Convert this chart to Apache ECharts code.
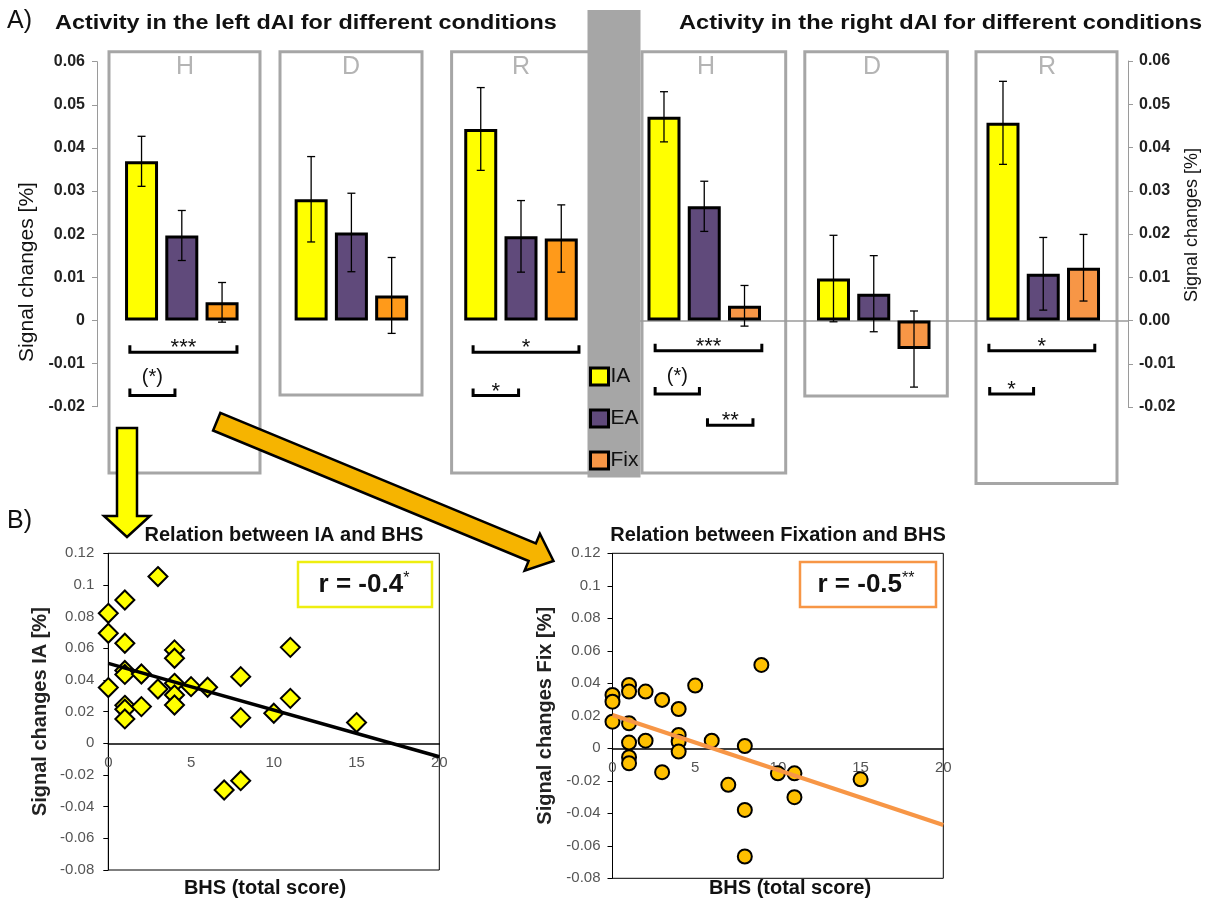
<!DOCTYPE html>
<html><head><meta charset="utf-8">
<script src="https://cdn.jsdelivr.net/npm/echarts@6/dist/echarts.min.js"></script>
<style>html,body{margin:0;padding:0;background:#fff}#c{width:1215px;height:901px}</style>
</head><body><div id="c"></div>
<script>
// ---------------- DATA ----------------
const conditions = ['H', 'D', 'R'];
const groups = ['IA', 'EA', 'Fix'];
// left dAI
const leftIA = [0.0369, 0.0281, 0.0444];
const leftEA = [0.0197, 0.0204, 0.0195];
const leftFix = [0.0042, 0.0058, 0.0190];
const leftIAErr = [0.0058, 0.0099, 0.0096];
const leftEAErr = [0.0058, 0.0091, 0.0083];
const leftFixErr = [0.0046, 0.0088, 0.0078];
// right dAI
const rightIA = [0.0471, 0.0097, 0.0457];
const rightEA = [0.0264, 0.0062, 0.0108];
const rightFix = [0.0034, -0.0066, 0.0122];
const rightIAErr = [0.0058, 0.0100, 0.0096];
const rightEAErr = [0.0058, 0.0088, 0.0084];
const rightFixErr = [0.0047, 0.0088, 0.0077];
// significance brackets: [condition index, from bar pos, to bar pos, y value, label]
const leftBrackets = [[0, -1.29, 1.37, -0.0074, '***'], [0, -1.29, -0.17, -0.0174, '(*)'],
                      [2, -1.19, 1.44, -0.0074, '*'], [2, -1.19, -0.06, -0.0174, '*']];
const rightBrackets = [[0, -1.22, 1.43, -0.0070, '***'], [0, -1.22, -0.12, -0.0170, '(*)'],
                       [0, 0.08, 1.21, -0.0242, '**'], [2, -1.35, 1.28, -0.0070, '*'],
                       [2, -1.33, -0.24, -0.0170, '*']];
// scatter: IA vs BHS
const bhsIA = [0, 0, 0, 1, 1, 1, 1, 1, 1, 1, 2, 2, 3, 3, 4, 4, 4, 4, 4, 5, 6, 7, 8, 8, 8, 10, 11, 11, 15];
const sigIA = [0.0352, 0.0821, 0.0695, 0.0905, 0.0632, 0.0460, 0.0435, 0.0240, 0.0215, 0.0154, 0.0438, 0.0232,
               0.1053, 0.0343, 0.0590, 0.0537, 0.0379, 0.0305, 0.0242, 0.0358, 0.0354, -0.0295, 0.0421,
               0.0162, -0.0236, 0.0190, 0.0606, 0.0284, 0.0131];
const trendIA = [[0, 0.0505], [20, -0.0085]];
// scatter: Fix vs BHS
const bhsFix = [0, 0, 0, 1, 1, 1, 1, 1, 1, 2, 2, 3, 3, 4, 4, 4, 4, 5, 6, 7, 8, 8, 8, 9, 10, 11, 11, 15];
const sigFix = [0.0328, 0.0287, 0.0164, 0.0390, 0.0349, 0.0154, 0.0035, -0.0055, -0.0092, 0.0349, 0.0047,
                0.0298, -0.0147, 0.0242, 0.0082, 0.0041, -0.0020, 0.0386, 0.0047, -0.0225, 0.0014,
                -0.0379, -0.0666, 0.0513, -0.0154, -0.0154, -0.0301, -0.0191];
const trendFix = [[0, 0.0205], [20, -0.0472]];
const corrLabels = ['r = -0.4', 'r = -0.5'];
const corrStars = ['*', '**'];

// ---------------- STYLE ----------------
const FONT = 'Liberation Sans, Arial, sans-serif';
const YEL = '#ffff00', PUR = '#604a7b', ORA_L = '#ff9a1a', ORA_R = '#f79646';
const BAR_W = 33, BAR_GAP = 0.22, STEP = BAR_W * (1 + BAR_GAP);

const chart = echarts.init(document.getElementById('c'), null, {renderer: 'canvas'});

function errRender(params, api) {
  const cat = api.value(0), v = api.value(1), e = api.value(2), k = api.value(3);
  const x = api.coord([cat, v])[0] + (k - 1) * STEP;
  const yt = api.coord([cat, v + e])[1], yb = api.coord([cat, v - e])[1];
  const st = {stroke: '#000', lineWidth: 1.3};
  return {type: 'group', children: [
    {type: 'line', shape: {x1: x, y1: yt, x2: x, y2: yb}, style: st},
    {type: 'line', shape: {x1: x - 4, y1: yt, x2: x + 4, y2: yt}, style: st},
    {type: 'line', shape: {x1: x - 4, y1: yb, x2: x + 4, y2: yb}, style: st}
  ]};
}
function bracketRender(list) {
  return function (params, api) {
    const b = list[params.dataIndex];
    const c = api.coord([b[0], b[3]]);
    const x1 = c[0] + b[1] * STEP, x2 = c[0] + b[2] * STEP, y = c[1];
    const isParen = b[4].charAt(0) === '(';
    return {type: 'group', children: [
      {type: 'polyline', shape: {points: [[x1, y - 7], [x1, y], [x2, y], [x2, y - 7]]},
       style: {stroke: '#000', lineWidth: 3, fill: null}},
      {type: 'text', x: (x1 + x2) / 2, y: isParen ? y - 18 : y - 4,
       style: {text: b[4], font: (isParen ? '20px ' : '22px ') + FONT, fill: '#111',
               textAlign: 'center', textVerticalAlign: 'middle', align: 'center', verticalAlign: 'middle'}}
    ]};
  };
}
function errData(vals, errs, k) { return vals.map((v, i) => [i, v, errs[i], k]); }

function txt(x, y, text, font, opts) {
  opts = opts || {};
  return {type: 'text', x: x, y: y, z: opts.z || 10, rotation: opts.rotation || 0,
    scaleX: opts.scaleX || 1,
    style: {text: text, font: font, fill: opts.fill || '#111',
      textAlign: opts.align || 'left', align: opts.align || 'left',
      textVerticalAlign: 'middle', verticalAlign: 'middle', rich: opts.rich}};
}
function box(x1, y1, x2, y2, color, lw, z) {
  return {type: 'rect', z: z || 0, shape: {x: x1, y: y1, width: x2 - x1, height: y2 - y1},
          style: {fill: null, stroke: color, lineWidth: lw}};
}
function arrowPoly(T, P, hw, headHw, headLen) {
  const dx = P[0] - T[0], dy = P[1] - T[1], L = Math.hypot(dx, dy);
  const u = [dx / L, dy / L], n = [-u[1], u[0]];
  const B = [P[0] - headLen * u[0], P[1] - headLen * u[1]];
  const pt = (o, s) => [o[0] + s * n[0], o[1] + s * n[1]];
  return [pt(T, hw), pt(B, hw), pt(B, headHw), P, pt(B, -headHw), pt(B, -hw), pt(T, -hw)];
}

const GRAY = '#a6a6a6';
const graphics = [
  // condition panels
  box(109, 51.7, 260, 473, GRAY, 3), box(280, 51.7, 422, 395, GRAY, 3), box(451.6, 51.7, 594, 473, GRAY, 3),
  box(642, 51.7, 785.7, 473, GRAY, 3), box(804.8, 51.7, 947.3, 396, GRAY, 3), box(976, 51.7, 1117, 483.5, GRAY, 3),
  // grey divider
  {type: 'rect', z: 1, shape: {x: 587.5, y: 10, width: 53, height: 467.5}, style: {fill: GRAY}},
  // condition letters
  txt(185, 67, 'H', '25px ' + FONT, {fill: '#b4b4b4', align: 'center'}),
  txt(351, 67, 'D', '25px ' + FONT, {fill: '#b4b4b4', align: 'center'}),
  txt(521, 67, 'R', '25px ' + FONT, {fill: '#b4b4b4', align: 'center'}),
  txt(706, 67, 'H', '25px ' + FONT, {fill: '#b4b4b4', align: 'center'}),
  txt(872, 67, 'D', '25px ' + FONT, {fill: '#b4b4b4', align: 'center'}),
  txt(1047, 67, 'R', '25px ' + FONT, {fill: '#b4b4b4', align: 'center'}),
  // titles
  txt(7, 21, 'A)', '25px ' + FONT),
  txt(7, 521, 'B)', '25px ' + FONT),
  txt(55, 23, 'Activity in the left dAI for different conditions', 'bold 20px ' + FONT, {scaleX: 1.17}),
  txt(679, 23, 'Activity in the right dAI for different conditions', 'bold 20px ' + FONT, {scaleX: 1.18}),
  txt(27, 272, 'Signal changes [%]', '21px ' + FONT, {rotation: Math.PI / 2, align: 'center'}),
  txt(1192, 225, 'Signal changes [%]', '18px ' + FONT, {rotation: Math.PI / 2, align: 'center'}),
  // scatter titles & x names
  txt(284, 535, 'Relation between IA and BHS', 'bold 20px ' + FONT, {align: 'center'}),
  txt(778, 535, 'Relation between Fixation and BHS', 'bold 20px ' + FONT, {align: 'center'}),
  txt(265, 888, 'BHS (total score)', 'bold 20px ' + FONT, {align: 'center'}),
  txt(790, 888, 'BHS (total score)', 'bold 20px ' + FONT, {align: 'center'}),
  // correlation boxes
  box(298, 562, 432, 607, '#eeee10', 2.5, 5),
  box(800, 562, 936, 607, ORA_R, 2.5, 5),
  txt(364, 585, '{a|' + corrLabels[0] + '}{b|' + corrStars[0] + '}', 'bold 26px ' + FONT, {align: 'center',
    rich: {a: {font: 'bold 26px ' + FONT, fill: '#111', color: '#111'},
           b: {font: '16px ' + FONT, fill: '#111', color: '#111', verticalAlign: 'top', padding: [0, 0, 12, 0]}}}),
  txt(866, 585, '{a|' + corrLabels[1] + '}{b|' + corrStars[1] + '}', 'bold 26px ' + FONT, {align: 'center',
    rich: {a: {font: 'bold 26px ' + FONT, fill: '#111', color: '#111'},
           b: {font: '16px ' + FONT, fill: '#111', color: '#111', verticalAlign: 'top', padding: [0, 0, 12, 0]}}}),
  // arrows
  {type: 'polygon', z: 20, shape: {points: [[117, 428], [137, 428], [137, 516], [150, 516], [127, 537], [104, 516], [117, 516]]},
   style: {fill: YEL, stroke: '#000', lineWidth: 2.5, lineJoin: 'miter'}},
  {type: 'polygon', z: 20, shape: {points: arrowPoly([216.7, 421.7], [553.5, 561], 9.5, 20, 23)},
   style: {fill: '#f6b400', stroke: '#000', lineWidth: 2.5, lineJoin: 'miter'}}
];

const barStyle = c => ({color: c, borderColor: '#000', borderWidth: 3});
const fmtLeft = v => (Math.abs(v) < 1e-9 ? '0' : v.toFixed(2));
const fmtRight = v => (Math.abs(v) < 1e-9 ? '0.00' : v.toFixed(2));

// scatter grid geometry (pixel layout)
const G2 = {left: 108.3, top: 553.3, width: 331, height: 316.7};
const G3 = {left: 612.5, top: 553.3, width: 330.8, height: 325};
const Y_MIN = -0.08, Y_MAX = 0.12;
const zeroOffset = g => -(g.height * (0 - Y_MIN) / (Y_MAX - Y_MIN));

const option = {
  animation: false,
  backgroundColor: '#fff',
  textStyle: {fontFamily: FONT},
  legend: {
    orient: 'vertical', left: 589, top: 366, itemWidth: 18, itemHeight: 17, itemGap: 21, padding: 0,
    selectedMode: false, icon: 'rect', z: 10,
    itemStyle: {borderColor: '#000', borderWidth: 3},
    textStyle: {fontSize: 21, color: '#111', fontFamily: FONT, padding: [0, 0, 0, -3]},
    data: [{name: 'IA', itemStyle: {color: YEL}}, {name: 'EA', itemStyle: {color: PUR}},
           {name: 'Fix', itemStyle: {color: ORA_R}}]
  },
  grid: [
    {left: 97, top: 61.7, width: 508.8, height: 345},
    {left: 619.5, top: 61, width: 508.5, height: 346},
    Object.assign({show: true, borderColor: '#000', borderWidth: 1, backgroundColor: 'transparent'}, G2),
    Object.assign({show: true, borderColor: '#000', borderWidth: 1, backgroundColor: 'transparent'}, G3)
  ],
  xAxis: [
    {gridIndex: 0, type: 'category', data: conditions, axisLine: {show: false}, axisTick: {show: false}, axisLabel: {show: false}},
    {gridIndex: 1, type: 'category', data: conditions, axisLine: {show: true, onZero: true, lineStyle: {color: '#9a9a9a', width: 1.5}},
     axisTick: {show: false}, axisLabel: {show: false}},
    {gridIndex: 2, type: 'value', min: 0, max: 20, interval: 5, position: 'bottom', offset: zeroOffset(G2),
     axisLine: {onZero: false, lineStyle: {color: '#000', width: 1.5}},
     axisTick: {show: false}, splitLine: {show: false}, axisLabel: {fontSize: 15, color: '#555', margin: 12, fontFamily: FONT}},
    {gridIndex: 3, type: 'value', min: 0, max: 20, interval: 5, position: 'bottom', offset: zeroOffset(G3),
     axisLine: {onZero: false, lineStyle: {color: '#000', width: 1.5}},
     axisTick: {show: false}, splitLine: {show: false}, axisLabel: {fontSize: 15, color: '#555', margin: 12, fontFamily: FONT}}
  ],
  yAxis: [
    {gridIndex: 0, type: 'value', min: -0.02, max: 0.06, interval: 0.01, position: 'left',
     axisLine: {show: true, lineStyle: {color: '#9a9a9a', width: 1}}, axisTick: {show: true, length: 5, lineStyle: {color: '#9a9a9a'}},
     splitLine: {show: false}, axisLabel: {formatter: fmtLeft, fontSize: 16, fontWeight: 'bold', color: '#222', margin: 12, fontFamily: FONT}},
    {gridIndex: 1, type: 'value', min: -0.02, max: 0.06, interval: 0.01, position: 'right',
     axisLine: {show: true, lineStyle: {color: '#9a9a9a', width: 1}}, axisTick: {show: true, length: 5, lineStyle: {color: '#9a9a9a'}},
     splitLine: {show: false}, axisLabel: {formatter: fmtRight, fontSize: 16, fontWeight: 'bold', color: '#222', margin: 11, fontFamily: FONT}},
    {gridIndex: 2, type: 'value', min: Y_MIN, max: Y_MAX, interval: 0.02,
     axisLine: {show: true, onZero: false, lineStyle: {color: '#000'}}, axisTick: {show: true, length: 5, lineStyle: {color: '#000'}},
     splitLine: {show: false}, axisLabel: {fontSize: 15, color: '#555', margin: 14, fontFamily: FONT},
     name: 'Signal changes IA [%]', nameLocation: 'middle', nameGap: 58, nameTextStyle: {fontSize: 20, fontWeight: 'bold', color: '#222', fontFamily: FONT}},
    {gridIndex: 3, type: 'value', min: Y_MIN, max: Y_MAX, interval: 0.02,
     axisLine: {show: true, onZero: false, lineStyle: {color: '#000'}}, axisTick: {show: true, length: 5, lineStyle: {color: '#000'}},
     splitLine: {show: false}, axisLabel: {fontSize: 15, color: '#555', margin: 12, fontFamily: FONT},
     name: 'Signal changes Fix [%]', nameLocation: 'middle', nameGap: 57, nameTextStyle: {fontSize: 20, fontWeight: 'bold', color: '#222', fontFamily: FONT}}
  ],
  graphic: {elements: graphics},
  series: [
    {type: 'bar', name: 'IA', xAxisIndex: 0, yAxisIndex: 0, data: leftIA, barWidth: BAR_W, barGap: (BAR_GAP * 100) + '%', itemStyle: barStyle(YEL), z: 3},
    {type: 'bar', name: 'EA', xAxisIndex: 0, yAxisIndex: 0, data: leftEA, barWidth: BAR_W, barGap: (BAR_GAP * 100) + '%', itemStyle: barStyle(PUR), z: 3},
    {type: 'bar', name: 'Fix', xAxisIndex: 0, yAxisIndex: 0, data: leftFix, barWidth: BAR_W, barGap: (BAR_GAP * 100) + '%', itemStyle: barStyle(ORA_L), z: 3},
    {type: 'bar', name: 'IA', xAxisIndex: 1, yAxisIndex: 1, data: rightIA, barWidth: BAR_W, barGap: (BAR_GAP * 100) + '%', itemStyle: barStyle(YEL), z: 3},
    {type: 'bar', name: 'EA', xAxisIndex: 1, yAxisIndex: 1, data: rightEA, barWidth: BAR_W, barGap: (BAR_GAP * 100) + '%', itemStyle: barStyle(PUR), z: 3},
    {type: 'bar', name: 'Fix', xAxisIndex: 1, yAxisIndex: 1, data: rightFix, barWidth: BAR_W, barGap: (BAR_GAP * 100) + '%', itemStyle: barStyle(ORA_R), z: 3},
    {type: 'custom', name: 'errL', xAxisIndex: 0, yAxisIndex: 0, renderItem: errRender, z: 4,
     data: errData(leftIA, leftIAErr, 0).concat(errData(leftEA, leftEAErr, 1), errData(leftFix, leftFixErr, 2))},
    {type: 'custom', name: 'errR', xAxisIndex: 1, yAxisIndex: 1, renderItem: errRender, z: 4,
     data: errData(rightIA, rightIAErr, 0).concat(errData(rightEA, rightEAErr, 1), errData(rightFix, rightFixErr, 2))},
    {type: 'custom', name: 'sigL', xAxisIndex: 0, yAxisIndex: 0, renderItem: bracketRender(leftBrackets), z: 4, clip: false,
     data: leftBrackets.map(b => [b[0], b[3]])},
    {type: 'custom', name: 'sigR', xAxisIndex: 1, yAxisIndex: 1, renderItem: bracketRender(rightBrackets), z: 4, clip: false,
     data: rightBrackets.map(b => [b[0], b[3]])},
    {type: 'scatter', name: 'IA vs BHS', xAxisIndex: 2, yAxisIndex: 2, symbol: 'diamond', symbolSize: [19, 19],
     data: bhsIA.map((x, i) => [x, sigIA[i]]), itemStyle: {color: YEL, borderColor: '#000', borderWidth: 2, opacity: 1}, z: 3},
    {type: 'line', name: 'trendIA', xAxisIndex: 2, yAxisIndex: 2, data: trendIA, showSymbol: false, symbol: 'none',
     lineStyle: {color: '#000', width: 3.5}, z: 4},
    {type: 'scatter', name: 'Fix vs BHS', xAxisIndex: 3, yAxisIndex: 3, symbol: 'circle', symbolSize: 14,
     data: bhsFix.map((x, i) => [x, sigFix[i]]), itemStyle: {color: '#ffc000', borderColor: '#000', borderWidth: 2, opacity: 1}, z: 3},
    {type: 'line', name: 'trendFix', xAxisIndex: 3, yAxisIndex: 3, data: trendFix, showSymbol: false, symbol: 'none',
     lineStyle: {color: ORA_R, width: 4}, z: 4}
  ]
};
chart.setOption(option);
</script></body></html>
